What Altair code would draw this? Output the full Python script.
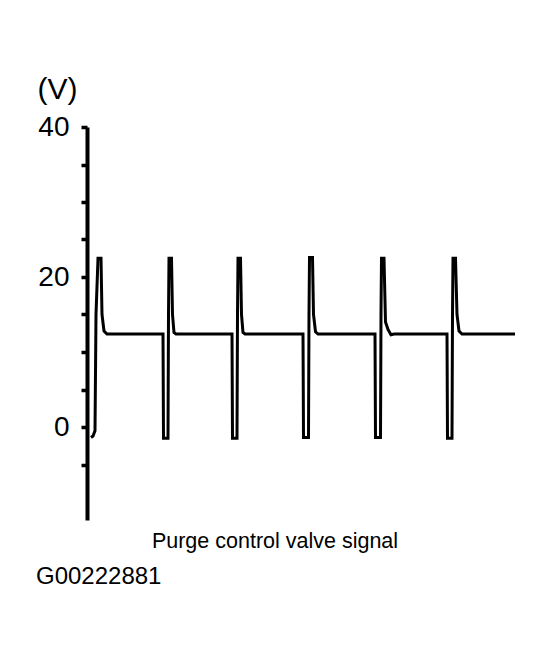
import altair as alt
import pandas as pd

# Time axis (arbitrary units, left edge = y-axis) and voltage readings of the trace
t_values = [4, 6, 8, 9, 11, 14, 15, 17, 20,
            76, 76.5, 81, 81.5, 82, 84.5, 85.5, 87, 89,
            145, 145.5, 150, 150.5, 151, 153.5, 154.5, 156, 158,
            216, 216.5, 221.5, 222, 222.5, 225.5, 226.5, 228.5, 231,
            288, 288.5, 293.5, 294, 294.5, 297, 298.5, 301, 304, 307,
            360, 360.5, 365, 365.5, 366, 368.5, 370, 372, 375,
            428]
v_values = [-1.4, -1.2, -0.5, 15, 22.5, 22.5, 15, 12.8, 12.4,
            12.4, -1.5, -1.5, 15, 22.5, 22.5, 15, 12.6, 12.4,
            12.4, -1.5, -1.5, 15, 22.5, 22.5, 15, 12.6, 12.4,
            12.4, -1.4, -1.4, 15, 22.6, 22.6, 15, 12.7, 12.4,
            12.4, -1.4, -1.4, 15, 22.5, 22.5, 14, 13, 12.3, 12.4,
            12.4, -1.5, -1.5, 15, 22.5, 22.5, 15, 12.8, 12.4,
            12.4]

y_ticks = [-5, 0, 5, 10, 15, 20, 25, 30, 35, 40]
y_title = "(V)"
caption = ["Purge control valve signal"]
figure_id = ["G00222881"]

df = pd.DataFrame({"t": t_values, "v": v_values, "i": list(range(len(t_values)))})

FONT = "Liberation Sans"

trace = alt.Chart(df).mark_line(color="black", strokeWidth=3, strokeJoin="miter", clip=False).encode(
    x=alt.X("t:Q", scale=alt.Scale(domain=[0, 433], nice=False, zero=False), axis=None),
    y=alt.Y("v:Q", scale=alt.Scale(domain=[-12.4, 40], nice=False, zero=False),
            axis=alt.Axis(values=y_ticks, labelExpr="datum.value % 20 === 0 ? datum.label : ''",
                          grid=False, domainColor="black", domainWidth=4,
                          tickColor="black", tickWidth=3.5, tickSize=6,
                          labelFont=FONT, labelFontSize=28, labelColor="black",
                          labelPadding=12, labelBaseline="middle",
                          title=y_title, titleAngle=0, titleFont=FONT, titleFontSize=30,
                          titleFontWeight="normal", titleColor="black",
                          titleX=-30, titleY=-29, titleAlign="center", titleBaseline="alphabetic")),
    order="i:Q",
)

cap = alt.Chart(pd.DataFrame({"s": caption})).mark_text(
    font=FONT, fontSize=21.5, color="black", align="center", baseline="alphabetic"
).encode(x=alt.value(188), y=alt.value(421), text="s:N")

fid = alt.Chart(pd.DataFrame({"s": figure_id})).mark_text(
    font=FONT, fontSize=24, color="black", align="left", baseline="alphabetic"
).encode(x=alt.value(-51), y=alt.value(457), text="s:N")

chart = alt.layer(trace, cap, fid).properties(
    width=433, height=393,
    padding={"left": 79, "top": 119, "right": 20, "bottom": 120},
    autosize=alt.AutoSizeParams(type="none"),
).configure(background="white", view=alt.ViewConfig(stroke=None))

chart.save("out.html", embed_options={"renderer": "svg", "actions": False})
